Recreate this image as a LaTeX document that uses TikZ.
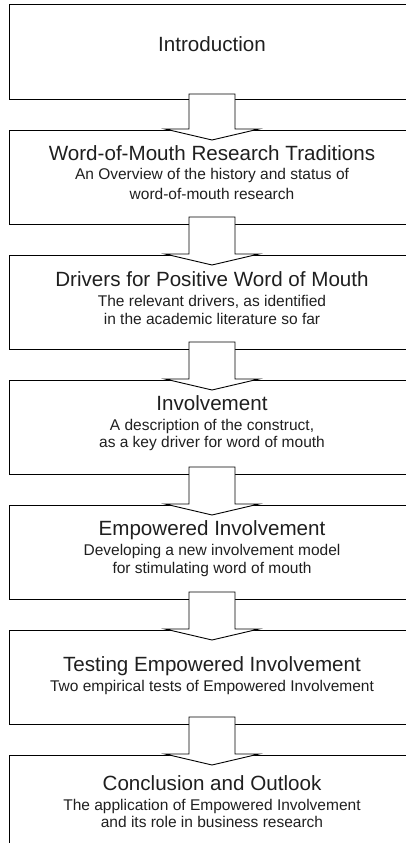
\documentclass[tikz,border=0pt]{standalone}
\usepackage{fontspec}
\setmainfont{Liberation Sans}
\usetikzlibrary{calc}

% block arrow from the bottom of box #1 into the top of box #2;
% #3 is how far the shaft starts above the bottom edge of box #1
\newcommand\flowarrow[3]{%
  \draw[flow]
    ($(#1.south)+(-23pt,#3)$) -- ($(#1.south)+(23pt,#3)$)
    -- ($(#2.north)+(23pt,1pt)$) -- ($(#2.north)+(47pt,1pt)$)
    -- ($(#2.north)+(0pt,-10pt)$)
    -- ($(#2.north)+(-47pt,1pt)$) -- ($(#2.north)+(-23pt,1pt)$)
    -- cycle;}

\begin{document}
\begin{tikzpicture}[x=1pt,y=-1pt,
  box/.style={draw=black, line width=1pt, minimum width=406pt,
    minimum height=94pt, inner sep=0pt, outer sep=0pt},
  title/.style={anchor=base, inner sep=0pt,
    font=\fontsize{20.6}{24}\selectfont, text=black!88},
  sub/.style={anchor=base, inner sep=0pt,
    font=\fontsize{15.5}{18}\selectfont, text=black!88},
  flow/.style={draw=black, line width=0.9pt, fill=white, line join=miter}]
\useasboundingbox (0,0) rectangle (406,843);
\clip (0,0) rectangle (406,843);

% chapter boxes
\node[box] (b1) at (212,52) {};
\node[box] (b2) at (212,177) {};
\node[box] (b3) at (212,302) {};
\node[box] (b4) at (212,427) {};
\node[box] (b5) at (212,552) {};
\node[box] (b6) at (212,677) {};
\node[box] (b7) at (212,802) {};

% arrows between consecutive chapters
\flowarrow{b1}{b2}{5pt}
\flowarrow{b2}{b3}{7pt}
\flowarrow{b3}{b4}{7pt}
\flowarrow{b4}{b5}{7pt}
\flowarrow{b5}{b6}{7pt}
\flowarrow{b6}{b7}{7pt}

% chapter titles and descriptions
\node[title] (t1) at (212,52) {Introduction};

\node[title] (t2) at (212,160) {Word-of-Mouth Research Traditions};
\node[sub] (s2a) at (212,179) {An Overview of the history and status of};
\node[sub] (s2b) at (212,199) {word-of-mouth research};

\node[title] (t3) at (212,286) {Drivers for Positive Word of Mouth};
\node[sub] (s3a) at (212,306) {The relevant drivers, as identified};
\node[sub] (s3b) at (212,324) {in the academic literature so far};

\node[title] (t4) at (212,410) {Involvement};
\node[sub] (s4a) at (212,430) {A description of the construct,};
\node[sub] (s4b) at (212,447) {as a key driver for word of mouth};

\node[title] (t5) at (212,535) {Empowered Involvement};
\node[sub] (s5a) at (212,555) {Developing a new involvement model};
\node[sub] (s5b) at (212,573) {for stimulating word of mouth};

\node[title] (t6) at (212,671) {Testing Empowered Involvement};
\node[sub] (s6a) at (212,691) {Two empirical tests of Empowered Involvement};

\node[title] (t7) at (212,790) {Conclusion and Outlook};
\node[sub] (s7a) at (212,810) {The application of Empowered Involvement};
\node[sub] (s7b) at (212,827) {and its role in business research};
\end{tikzpicture}
\end{document}
